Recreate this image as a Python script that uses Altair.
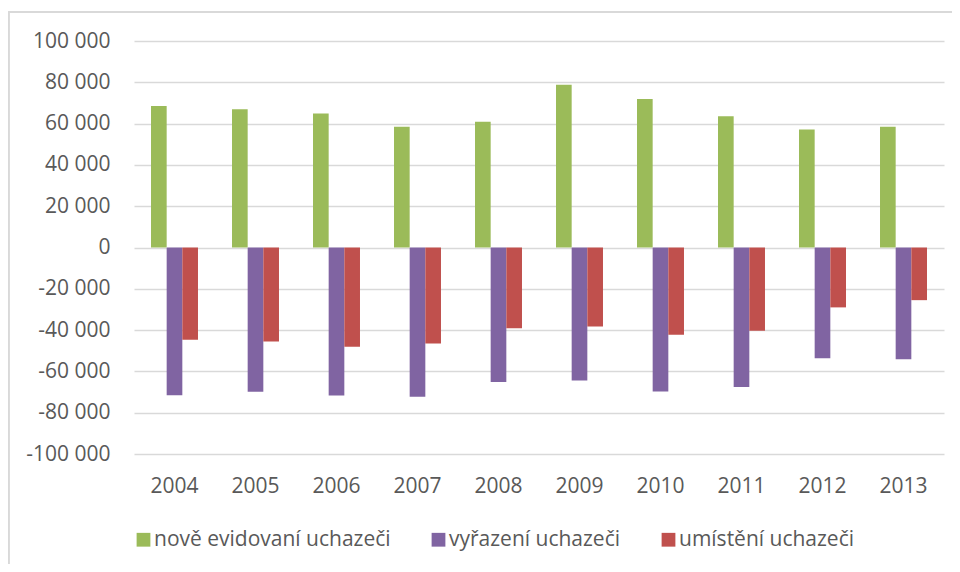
import altair as alt
import pandas as pd

years = ["2004", "2005", "2006", "2007", "2008", "2009", "2010", "2011", "2012", "2013"]
series = ["nově evidovaní uchazeči", "vyřazení uchazeči", "umístění uchazeči"]
colors = ["#9BBB59", "#8064A2", "#C0504D"]

nove = [68500, 67000, 64900, 58500, 60900, 78800, 71900, 63600, 57200, 58500]
vyrazeni = [-71500, -69900, -71700, -72300, -65100, -64400, -69700, -67500, -53600, -54100]
umisteni = [-44700, -45500, -48100, -46500, -39100, -38300, -42300, -40300, -29000, -25500]

y_ticks = [-100000, -80000, -60000, -40000, -20000, 0, 20000, 40000, 60000, 80000, 100000]

rows = []
for name, vals in zip(series, [nove, vyrazeni, umisteni]):
    for yr, v in zip(years, vals):
        rows.append({"rok": yr, "serie": name, "hodnota": v})
df = pd.DataFrame(rows)

FONT = "Open Sans"
TXT = "#595959"
GRID = "#d9d9d9"
FS = 21

bars = alt.Chart(df).mark_bar().encode(
    x=alt.X(
        "rok:N",
        sort=years,
        scale=alt.Scale(paddingInner=0.42, paddingOuter=0.21),
        axis=alt.Axis(
            title=None, labelAngle=0, domain=False, ticks=False, grid=False,
            labelPadding=21, labelFontSize=FS, labelColor=TXT, labelFont=FONT,
        ),
    ),
    xOffset=alt.XOffset("serie:N", sort=series, scale=alt.Scale(paddingInner=0, paddingOuter=0)),
    y=alt.Y(
        "hodnota:Q",
        scale=alt.Scale(domain=[-100000, 100000], nice=False),
        axis=alt.Axis(
            title=None, values=y_ticks, domain=False, ticks=False,
            labelExpr="replace(replace(format(datum.value, ','), ',', ' '), '\u2212', '-')",
            labelPadding=24, labelFontSize=FS, labelColor=TXT, labelFont=FONT,
            grid=True, gridColor=GRID, gridWidth=1.5,
        ),
    ),
    color=alt.Color(
        "serie:N",
        sort=series,
        scale=alt.Scale(domain=series, range=colors),
        legend=alt.Legend(
            title=None, orient="none", direction="horizontal",
            legendX=-1, legendY=488,
            symbolType="square", symbolSize=190, symbolStrokeWidth=0,
            labelFontSize=FS, labelColor=TXT, labelFont=FONT, labelLimit=500,
            labelOffset=0, columnPadding=37,
        ),
    ),
)

frame_left = alt.Chart(df).mark_rule(color=GRID, strokeWidth=1.5).encode(
    x=alt.value(-125.5), x2=alt.value(-125.5), y=alt.value(-29), y2=alt.value(540)
)
frame_top = alt.Chart(df).mark_rule(color=GRID, strokeWidth=1.5).encode(
    x=alt.value(-125.5), x2=alt.value(830), y=alt.value(-29), y2=alt.value(-29)
)

chart = (
    alt.layer(bars, frame_left, frame_top)
    .properties(
        width=810,
        height=413,
        background="white",
        autosize=alt.AutoSizeParams(type="none"),
        padding={"left": 126, "top": 33, "right": 8, "bottom": 110},
    )
    .configure(style={"cell": {"stroke": "white", "strokeOpacity": 0}})
    .configure_view(stroke="white", strokeOpacity=0, strokeWidth=0)
    .configure_axisX(grid=False, domain=False)
    .configure_axisY(domain=False)
)

chart.save("out.html", embed_options={"renderer": "svg", "actions": False})
